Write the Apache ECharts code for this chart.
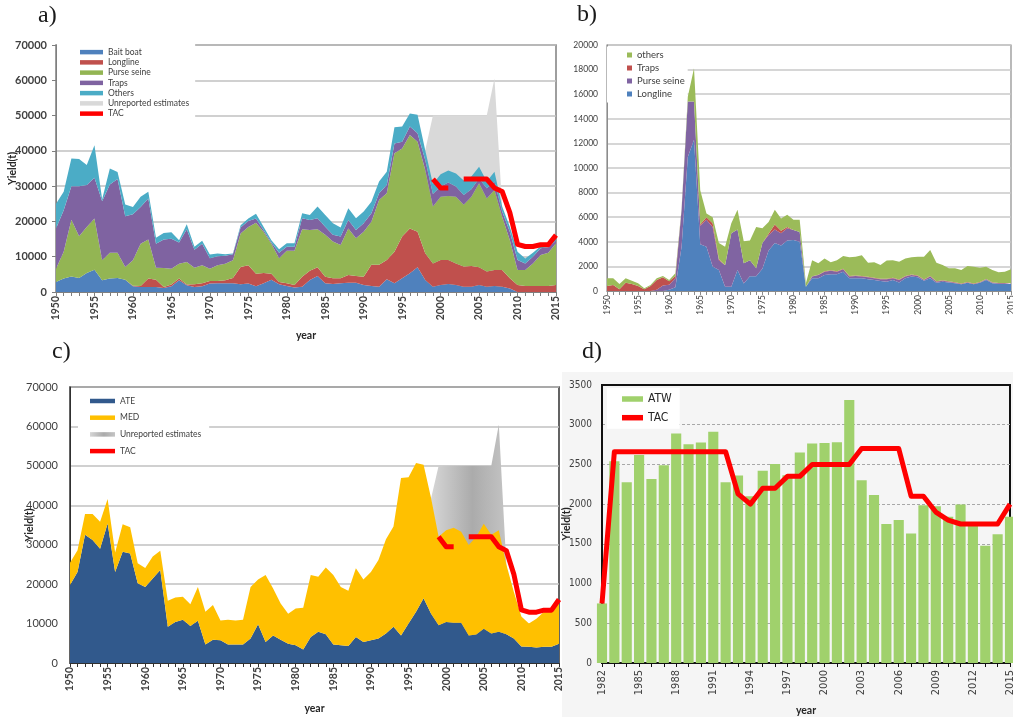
<!DOCTYPE html>
<html>
<head>
<meta charset="utf-8">
<script src="https://cdn.jsdelivr.net/npm/echarts@6/dist/echarts.min.js"></script>
<style>
html,body{margin:0;padding:0;background:#fff}
#c{width:1013px;height:717px}
</style>
</head>
<body>
<div id="c"></div>
<script>
// ---------- categories ----------
const years = [1950,1951,1952,1953,1954,1955,1956,1957,1958,1959,
               1960,1961,1962,1963,1964,1965,1966,1967,1968,1969,
               1970,1971,1972,1973,1974,1975,1976,1977,1978,1979,
               1980,1981,1982,1983,1984,1985,1986,1987,1988,1989,
               1990,1991,1992,1993,1994,1995,1996,1997,1998,1999,
               2000,2001,2002,2003,2004,2005,2006,2007,2008,2009,
               2010,2011,2012,2013,2014,2015];
const atwYears = [1982,1983,1984,1985,1986,1987,1988,1989,1990,1991,1992,1993,1994,1995,1996,1997,
                  1998,1999,2000,2001,2002,2003,2004,2005,2006,2007,2008,2009,2010,2011,2012,2013,2014,2015];

// ---------- a) East Atlantic + Mediterranean catches by gear (t) ----------
const baitBoat = [2800,3800,4400,4000,5400,6300,3300,3800,4000,3500,
                  1600,1400,1400,1400,1100,1600,3300,1900,1400,1600,
                  2400,2500,2500,2500,2200,2400,1600,2500,3500,2200,
                  1700,1300,1500,3400,4500,2500,2300,2500,2600,2600,
                  2000,1700,1500,3600,2500,3900,5300,7000,3400,1500,
                  2000,2300,2000,1500,1500,2000,1500,1700,1500,1000,
                  0,0,0,0,0,0];
const longlineA = [0,0,0,0,0,0,0,0,0,0,
                   200,300,2400,2100,300,500,500,200,800,900,
                   700,600,800,1500,4900,5200,3600,2900,1700,600,
                   800,700,2800,2600,2500,1800,1600,1400,2200,1900,
                   2300,6000,6200,5500,8900,11800,12700,10100,7600,6600,
                   7100,6800,6100,5700,5900,5000,4300,4500,4700,2900,
                   2000,1700,1700,1700,1700,2000];
const purseSeineA = [3800,7600,16100,11800,13000,14500,5700,7300,7100,3600,
                     7200,12000,11100,3400,5400,4500,4200,6400,4700,5100,
                     3500,4500,4700,5000,9500,10800,14400,11600,8500,6800,
                     9200,9700,13500,11600,10800,11900,10400,9400,13200,10700,
                     12800,12200,18400,18900,27900,25000,26500,25500,23600,16100,
                     17900,18100,18900,17500,19600,23800,20700,22700,15100,10800,
                     4200,4500,6400,8800,9400,11800];
const trapsA = [11400,11800,9500,14200,11900,11600,16700,19400,20900,14400,
                13000,10400,11600,6800,8100,8500,6000,9300,5100,6100,
                3000,2500,2300,1700,1700,1700,1200,500,300,1500,
                1100,1100,3100,2800,3100,2300,1900,2400,2400,2400,
                2400,2400,1900,2300,2800,1900,2400,2400,2800,3600,
                2900,3800,2900,2800,2100,1400,2900,2400,1500,2400,
                2900,1900,1900,1900,1600,700];
const othersA = [7000,5200,7800,7700,5700,9200,600,4500,2000,3300,
                 2100,2900,1900,1700,1800,1800,700,1400,800,800,
                 1000,800,400,200,600,700,1400,900,700,1000,
                 1000,1000,1400,1400,3300,3300,3300,2600,3300,3300,
                 3300,3300,3300,3800,4600,4300,3700,5200,2800,2800,
                 3500,3400,3700,4100,3600,3300,1900,2800,1400,1400,
                 2300,1400,1100,600,600,700];
// total catch including unreported estimates
const unreportedA = [null,null,null,null,null,null,null,null,null,null,
                     null,null,null,null,null,null,null,null,null,null,
                     null,null,null,null,null,null,null,null,null,null,
                     null,null,null,null,null,null,null,null,null,null,
                     null,null,null,null,null,null,null,null,40200,50000,
                     50000,50000,50000,50000,50000,50000,50000,60500,24200,null,
                     null,null,null,null,null,null];
const tacEast = [null,null,null,null,null,null,null,null,null,null,
                 null,null,null,null,null,null,null,null,null,null,
                 null,null,null,null,null,null,null,null,null,null,
                 null,null,null,null,null,null,null,null,null,null,
                 null,null,null,null,null,null,null,null,null,32000,
                 29500,29500,null,32000,32000,32000,32000,29500,28500,22500,
                 13500,12900,12900,13400,13400,16100];

// ---------- b) catches by gear (t) ----------
const longlineB = [0,0,0,0,0,0,0,0,0,0,
                   100,300,3600,10900,12300,3800,3600,2000,1700,350,
                   350,1700,600,1200,1200,1800,3300,3900,3700,4100,
                   4150,4000,350,1030,1030,1300,1360,1360,1570,1030,
                   1030,1030,950,900,810,760,900,700,1030,1170,
                   1110,840,1030,680,760,700,620,540,680,540,
                   680,900,620,570,570,570];
const purseSeineB = [0,0,0,0,0,0,0,0,100,450,
                     400,730,3000,4500,3100,1500,2200,3200,800,1750,
                     4350,3300,1650,1300,650,2100,1250,1100,1000,1000,
                     800,800,0,140,270,270,290,210,190,140,
                     190,140,160,130,140,190,130,200,140,130,
                     110,60,140,80,80,60,60,30,20,30,
                     20,50,60,50,50,50];
const trapsB = [400,490,140,680,570,400,140,400,800,660,
                300,190,0,0,0,100,200,300,100,0,
                0,0,0,0,0,0,100,400,200,100,
                0,0,0,30,30,40,40,40,40,40,
                40,40,40,40,40,40,40,40,40,40,
                40,40,40,40,40,30,30,30,30,30,
                30,30,30,30,30,30];
const othersB = [630,540,430,350,270,220,80,90,130,110,
                 100,220,100,400,2700,2800,300,500,1300,1500,
                 800,1600,1800,1600,3350,1200,950,1200,1000,1000,
                 850,1000,270,1300,920,1040,640,890,1050,1530,
                 1530,1690,1150,1260,1120,1480,1430,1440,1440,1400,
                 1530,1850,2120,1500,1230,1050,1130,1110,1300,1380,
                 1170,1000,1000,870,920,1110];

// ---------- c) catches by area (t) ----------
const ate = [19800,23100,32500,31200,29000,35400,23100,28200,27800,20200,
             19300,21400,23600,9200,10400,11000,9400,10700,4700,5900,
             5800,4700,4700,4700,6200,9800,5300,7000,5900,4900,
             4500,3400,6600,7900,7300,4700,4500,4300,6600,5300,
             5800,6200,7500,9200,7000,10000,13000,16400,12500,9600,
             10400,10200,10200,7000,7200,8700,7500,7900,7300,6200,
             4200,4100,3900,4100,4100,4900];
const med = [5600,5500,5300,6600,6800,6200,4900,7000,6600,5100,
             4800,5600,4900,6600,6200,5800,5500,8600,8300,8800,
             5000,6300,6100,6300,13100,11400,17000,11900,9200,7600,
             9300,10600,15700,14000,16900,17600,14800,14000,17400,15900,
             17300,19900,23900,25400,39900,37100,37700,33900,29300,22400,
             23300,24100,23100,22900,24800,26600,25000,25800,17700,11800,
             7600,5900,7300,8900,9200,10600];
const unreportedC = [null,null,null,null,null,null,null,null,null,null,
                     null,null,null,null,null,null,null,null,null,null,
                     null,null,null,null,null,null,null,null,null,null,
                     null,null,null,null,null,null,null,null,null,null,
                     null,null,null,null,null,null,null,null,41800,50000,
                     50000,50000,50000,50000,50000,50000,50000,60500,25000,null,
                     null,null,null,null,null,null];

// ---------- d) West Atlantic catches and TAC (t) ----------
const atw = [750,2540,2275,2620,2315,2490,2890,2755,2775,2910,2275,2360,2100,2420,2505,2365,
             2650,2765,2770,2780,3310,2300,2115,1750,1800,1630,1985,1975,1840,1995,1760,1475,1620,1840];
const tacWest = [750,2660,2660,2660,2660,2660,2660,2660,2660,2660,2660,2130,2000,2200,2200,2350,
                 2350,2500,2500,2500,2500,2700,2700,2700,2700,2100,2100,1900,1800,1750,1750,1750,1750,2000];

// ---------- styling ----------
const FONT = 'Lato, "Noto Sans", sans-serif';
const NARROW = '"Liberation Sans Narrow", "DejaVu Sans Condensed", sans-serif';
const SERIF = '"Liberation Serif", "DejaVu Serif", serif';
const TXT = '#404040';
const plain = v => String(v);

const C = {
  bait: '#4f81bd', longline: '#c0504d', purse: '#93b553', traps: '#7f63a1', others: '#4bacc6',
  unrep: '#d9d9d9', tac: '#ff0000',
  bLong: '#4f81bd', bPurse: '#8064a2', bTraps: '#c0504d', bOthers: '#9bbb59',
  ate: '#31598c', med: '#ffc000', atw: '#a0d16c'
};
const unrepGradient = new echarts.graphic.LinearGradient(0, 0, 1, 0, [
  {offset: 0, color: '#d6d6d6'}, {offset: 0.55, color: '#ababab'}, {offset: 1, color: '#c4c4c4'}
]);

function area(name, data, color, idx, stack) {
  return {
    name, type: 'line', xAxisIndex: idx, yAxisIndex: idx, data, stack,
    symbol: 'none', lineStyle: {width: 0}, itemStyle: {color},
    areaStyle: {color, opacity: 1}, emphasis: {disabled: true}, silent: true
  };
}
function tacLine(data, idx) {
  return {
    name: 'TAC', type: 'line', xAxisIndex: idx, yAxisIndex: idx, data,
    symbol: 'none', connectNulls: false, z: 5,
    lineStyle: {color: C.tac, width: 5, join: 'round'}, itemStyle: {color: C.tac},
    emphasis: {disabled: true}, silent: true
  };
}
function unrep(data, color, idx) {
  return {
    name: 'Unreported estimates', type: 'line', xAxisIndex: idx, yAxisIndex: idx, data,
    symbol: 'none', connectNulls: false, z: 1, lineStyle: {width: 0},
    itemStyle: {color}, areaStyle: {color, opacity: 1}, emphasis: {disabled: true}, silent: true
  };
}
function xCat(idx, data, o) {
  return {
    type: 'category', gridIndex: idx, data, boundaryGap: false,
    axisLine: {show: true, onZero: false, lineStyle: {color: o.line, width: o.lineWidth || 1}},
    axisTick: {show: true, interval: 0, length: 4, alignWithLabel: false, lineStyle: {color: o.line}},
    axisLabel: {interval: o.every - 1, rotate: 90, margin: o.margin, color: TXT,
                fontFamily: o.font, fontSize: o.size, fontWeight: o.bold ? 'bold' : 'normal'},
    splitLine: {show: false},
    name: o.name || '', nameLocation: 'middle', nameGap: o.nameGap || 0, nameMoveOverlap: false,
    nameTextStyle: {color: '#262626', fontFamily: FONT, fontSize: 10.5, fontWeight: 'bold'}
  };
}
function yVal(idx, max, step, o) {
  return {
    type: 'value', gridIndex: idx, min: 0, max, interval: step,
    axisLine: {show: true, lineStyle: {color: o.line, width: o.lineWidth || 1}},
    axisTick: {show: !!o.tick, length: 4, lineStyle: {color: o.line}},
    axisLabel: {formatter: plain, margin: o.margin, color: TXT, fontFamily: o.font,
                fontSize: o.size, fontWeight: o.bold ? 'bold' : 'normal'},
    splitLine: {show: true, showMaxLine: o.maxLine !== false, lineStyle: o.split},
    name: o.name || '', nameLocation: 'middle', nameGap: o.nameGap || 0, nameMoveOverlap: false,
    nameTextStyle: {color: '#262626', fontFamily: FONT, fontSize: 10.5, fontWeight: 'bold'}
  };
}
function item(name, color, icon) {
  return {name, icon: icon || 'rect', itemStyle: {color, borderWidth: 0}};
}

const option = {
  animation: false,
  backgroundColor: '#ffffff',
  graphic: [
    {type: 'rect', left: 562, top: 372, shape: {width: 451, height: 345}, style: {fill: '#f5f5f5'}, z: -10, silent: true},
    {type: 'text', left: 38, top: 4, style: {text: 'a)', font: '24px ' + SERIF, fill: '#1a1a1a'}},
    {type: 'text', left: 577, top: 3, style: {text: 'b)', font: '24px ' + SERIF, fill: '#1a1a1a'}},
    {type: 'text', left: 52, top: 340, style: {text: 'c)', font: '24px ' + SERIF, fill: '#1a1a1a'}},
    {type: 'text', left: 582, top: 340, style: {text: 'd)', font: '24px ' + SERIF, fill: '#1a1a1a'}}
  ],
  grid: [
    {left: 56, top: 45, width: 500, height: 247, show: true, borderColor: '#7f7f7f', borderWidth: 1.5, outerBoundsMode: 'none'},
    {left: 607, top: 45, width: 404, height: 246, show: true, borderColor: '#8c8c8c', borderWidth: 1.2, outerBoundsMode: 'none'},
    {left: 70, top: 387, width: 489, height: 276, show: true, borderColor: '#303030', borderWidth: 1.5, outerBoundsMode: 'none'},
    {left: 602, top: 385, width: 408, height: 278, show: true, borderColor: '#111111', borderWidth: 2, outerBoundsMode: 'none'}
  ],
  xAxis: [
    xCat(0, years, {line: '#7f7f7f', every: 5, margin: 4, font: FONT, size: 10.5, bold: true, name: 'year', nameGap: 38}),
    xCat(1, years, {line: '#8c8c8c', every: 5, margin: 4, font: FONT, size: 8.5}),
    xCat(2, years, {line: '#303030', every: 5, margin: 4, font: FONT, size: 10.5, bold: true, name: 'year', nameGap: 40}),
    xCat(3, atwYears, {line: '#111111', lineWidth: 2, every: 3, margin: 7, font: NARROW, size: 11, name: 'year', nameGap: 42})
  ],
  yAxis: [
    yVal(0, 70000, 10000, {line: '#7f7f7f', tick: true, margin: 9, font: FONT, size: 11, bold: true,
      split: {color: '#c0c0c0', width: 1.5}, name: 'Yield(t)', nameGap: 38}),
    yVal(1, 20000, 2000, {line: '#8c8c8c', margin: 9, font: FONT, size: 8.5,
      split: {color: '#c8c8c8', width: 1.5}}),
    yVal(2, 70000, 10000, {line: '#303030', margin: 12, font: FONT, size: 11,
      split: {color: '#c0c0c0', width: 1.5}, name: 'Yield(t)', nameGap: 35}),
    yVal(3, 3500, 500, {line: '#111111', lineWidth: 2, margin: 10, font: NARROW, size: 10, maxLine: false,
      split: {color: '#a8a8a8', width: 1, type: [3, 2]}, name: 'Yield(t)', nameGap: 30})
  ],
  legend: [
    {
      left: 57, top: 44, orient: 'vertical', backgroundColor: '#ffffff', padding: [3, 6, 3, 23],
      itemWidth: 23, itemHeight: 4.5, itemGap: 0, selectedMode: false,
      textStyle: {color: TXT, fontFamily: FONT, fontSize: 8.5, lineHeight: 10.25},
      data: [item('Bait boat', C.bait), item('Longline', C.longline), item('Purse seine', C.purse),
             item('Traps', C.traps), item('Others', C.others), item('Unreported estimates', C.unrep),
             item('TAC', C.tac)]
    },
    {
      // sits under the series so the 1964 peak stays in front of the box
      left: 607, top: 46.5, orient: 'vertical', backgroundColor: '#ffffff', padding: [3, 3, 3, 20],
      itemWidth: 5, itemHeight: 5, itemGap: 2, selectedMode: false, z: 1,
      textStyle: {color: TXT, fontFamily: FONT, fontSize: 9.5, lineHeight: 11},
      data: [item('others', C.bOthers), item('Traps', C.bTraps), item('Purse seine', C.bPurse),
             item('Longline', C.bLong)]
    },
    {
      left: 78, top: 392, orient: 'vertical', backgroundColor: '#ffffff', padding: [4, 8, 4, 12],
      itemWidth: 25, itemHeight: 4.5, itemGap: 6.7, selectedMode: false,
      textStyle: {color: TXT, fontFamily: FONT, fontSize: 8.5, lineHeight: 10},
      data: [item('ATE', C.ate), item('MED', C.med), item('Unreported estimates', unrepGradient),
             item('TAC', C.tac)]
    },
    {
      left: 607, top: 388, orient: 'vertical', backgroundColor: '#ffffff', padding: [4, 8, 4, 15],
      itemWidth: 21, itemHeight: 5.5, itemGap: 4.7, selectedMode: false,
      textStyle: {color: '#262626', fontFamily: NARROW, fontSize: 12, lineHeight: 14},
      data: [item('ATW', C.atw), item('TAC', C.tac)]
    }
  ],
  series: [
    // a)
    unrep(unreportedA, C.unrep, 0),
    area('Bait boat', baitBoat, C.bait, 0, 'a'),
    area('Longline', longlineA, C.longline, 0, 'a'),
    area('Purse seine', purseSeineA, C.purse, 0, 'a'),
    area('Traps', trapsA, C.traps, 0, 'a'),
    area('Others', othersA, C.others, 0, 'a'),
    tacLine(tacEast, 0),
    // b)
    area('Longline', longlineB, C.bLong, 1, 'b'),
    area('Purse seine', purseSeineB, C.bPurse, 1, 'b'),
    area('Traps', trapsB, C.bTraps, 1, 'b'),
    area('others', othersB, C.bOthers, 1, 'b'),
    // c)
    unrep(unreportedC, unrepGradient, 2),
    area('ATE', ate, C.ate, 2, 'c'),
    area('MED', med, C.med, 2, 'c'),
    tacLine(tacEast, 2),
    // d)
    {
      name: 'ATW', type: 'bar', xAxisIndex: 3, yAxisIndex: 3, data: atw, barWidth: '82%',
      itemStyle: {color: C.atw}, clip: true, emphasis: {disabled: true}, silent: true
    },
    tacLine(tacWest, 3)
  ]
};

const chart = echarts.init(document.getElementById('c'), null, {renderer: 'canvas', width: 1013, height: 717});
chart.setOption(option);
</script>
</body>
</html>
